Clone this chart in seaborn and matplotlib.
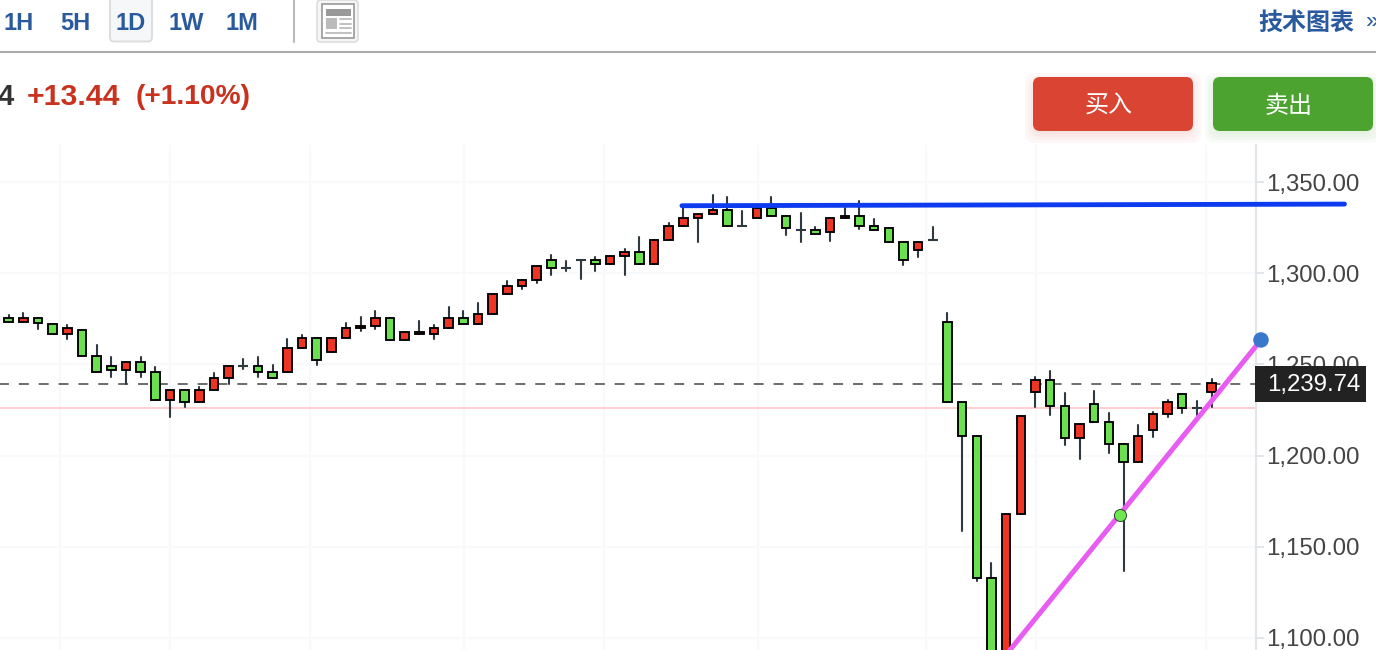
import matplotlib

matplotlib.use("Agg")
import matplotlib.pyplot as plt
import pandas as pd
import seaborn as sns
from matplotlib.patches import FancyBboxPatch, Rectangle
from matplotlib.ticker import StrMethodFormatter

opens = [1275.3, 1273.4, 1275.3, 1272.1, 1266.9, 1268.9, 1254.6, 1249.1, 1246.9, 1251.3,
         1245.8, 1230.5, 1236.0, 1229.4, 1236.2, 1242.5, 1249.1, 1249.1, 1245.8, 1245.8,
         1259.0, 1264.5, 1257.0, 1264.7, 1270.0, 1271.0, 1275.4, 1263.4, 1266.7, 1266.7,
         1270.0, 1275.4, 1272.1, 1277.6, 1288.6, 1293.0, 1296.3, 1307.2, 1302.8, 1307.2,
         1307.2, 1305.0, 1309.4, 1311.6, 1305.0, 1318.2, 1325.9, 1330.3, 1332.5, 1334.7,
         1325.9, 1330.3, 1335.7, 1331.4, 1323.7, 1323.7, 1322.6, 1330.3, 1331.4, 1325.9,
         1324.8, 1317.1, 1312.7, 1318.2, 1273.3, 1229.4, 1210.7, 1132.9, 1085.0, 1168.0,
         1234.9, 1241.4, 1227.2, 1209.6, 1228.3, 1218.4, 1206.4, 1196.5, 1214.0, 1222.8,
         1233.8, 1226.1, 1234.9]
highs = [1277.1, 1278.0, 1275.3, 1272.1, 1271.6, 1268.9, 1260.6, 1254.0, 1251.3, 1254.0,
         1248.6, 1236.0, 1236.0, 1237.6, 1245.3, 1249.1, 1253.0, 1254.0, 1249.7, 1263.9,
         1266.1, 1264.5, 1264.5, 1272.7, 1276.0, 1279.3, 1275.4, 1267.8, 1273.8, 1271.6,
         1281.4, 1279.3, 1283.6, 1288.6, 1295.7, 1296.3, 1303.9, 1310.0, 1306.7, 1307.2,
         1308.9, 1309.4, 1313.3, 1319.8, 1318.2, 1327.5, 1336.5, 1332.5, 1342.9, 1341.8,
         1334.1, 1335.7, 1341.8, 1331.4, 1333.0, 1325.3, 1330.3, 1335.7, 1339.6, 1329.7,
         1324.8, 1317.1, 1317.1, 1325.3, 1278.2, 1229.4, 1210.7, 1140.9, 1168.0, 1221.7,
         1243.1, 1246.4, 1234.3, 1217.3, 1235.4, 1223.3, 1206.4, 1216.8, 1223.9, 1230.5,
         1233.8, 1229.9, 1242.0]
lows = [1273.4, 1273.4, 1269.6, 1266.9, 1264.1, 1254.8, 1246.0, 1243.1, 1239.3, 1243.1,
        1230.7, 1221.2, 1226.6, 1229.4, 1236.2, 1239.3, 1247.5, 1243.1, 1242.5, 1245.8,
        1259.0, 1249.7, 1257.0, 1264.7, 1268.3, 1269.4, 1263.4, 1263.4, 1266.7, 1263.9,
        1270.0, 1272.1, 1272.1, 1277.6, 1288.6, 1291.3, 1294.6, 1299.0, 1301.2, 1296.8,
        1301.2, 1305.0, 1299.0, 1305.0, 1305.0, 1318.2, 1325.9, 1316.9, 1332.5, 1325.9,
        1325.9, 1330.3, 1331.4, 1320.9, 1316.9, 1321.5, 1317.6, 1330.3, 1324.2, 1323.7,
        1317.1, 1304.5, 1308.9, 1318.2, 1229.4, 1158.8, 1131.4, 1085.0, 1085.0, 1168.0,
        1226.6, 1222.3, 1205.8, 1198.1, 1218.4, 1201.4, 1136.9, 1196.5, 1210.2, 1221.3,
        1223.3, 1222.3, 1226.6]
closes = [1273.4, 1275.3, 1272.5, 1266.9, 1270.0, 1254.8, 1246.0, 1246.9, 1251.3, 1245.8,
          1230.7, 1236.0, 1229.4, 1236.0, 1242.5, 1249.1, 1249.1, 1245.8, 1242.5, 1259.0,
          1264.5, 1252.4, 1264.5, 1269.9, 1271.0, 1275.4, 1263.4, 1267.8, 1267.8, 1270.0,
          1275.4, 1272.1, 1277.6, 1288.6, 1293.0, 1296.3, 1303.9, 1302.8, 1302.8, 1307.2,
          1305.0, 1309.4, 1311.6, 1305.0, 1318.2, 1325.9, 1330.3, 1332.5, 1334.7, 1325.9,
          1325.9, 1335.7, 1331.4, 1324.8, 1323.7, 1321.5, 1330.3, 1331.4, 1325.9, 1323.7,
          1317.1, 1307.2, 1317.1, 1318.2, 1229.4, 1210.7, 1132.9, 1085.0, 1168.0, 1221.7,
          1241.4, 1227.2, 1209.6, 1217.3, 1218.4, 1206.4, 1196.5, 1210.7, 1222.8, 1229.4,
          1226.1, 1226.1, 1239.7]

y_ticks = [1100, 1150, 1200, 1250, 1300, 1350]
x_grid = [3.5, 11.0, 20.55, 31.04, 40.59, 51.08, 62.54, 70.04, 81.62]
dash_level = 1239.3
pink_level = 1226.1
blue_x = [45.9, 91.06]
blue_y = [1337.0, 1337.9]
pink_x = [68.26, 85.37]
pink_y = [1093.4, 1263.4]
green_dot = (75.76, 1167.4)
blue_dot = (85.37, 1263.4)
last_label = "1,239.74"

periods = ["1H", "5H", "1D", "1W", "1M"]
period_x = [18.5, 75, 131, 186.5, 242]

RED = "#ee3524"
GREEN = "#6be04f"
WICK = "#2f3a40"

sns.set_theme(style="white")
plt.rcParams["font.family"] = ["Liberation Sans", "Noto Sans CJK SC", "DejaVu Sans"]

df = pd.DataFrame({"i": range(len(opens)), "o": opens, "h": highs, "l": lows, "c": closes})
df["bottom"] = df[["o", "c"]].min(axis=1)
df["height"] = (df["o"] - df["c"]).abs()

fig = plt.figure(figsize=(13.76, 6.5), dpi=100, facecolor="white")
ax = fig.add_axes([0, 0, 1256 / 1376, 505 / 650])
ax.patch.set_alpha(0)

# wicks, one short line per candle
wicks = pd.concat([df[["i", "h"]].rename(columns={"h": "p"}), df[["i", "l"]].rename(columns={"l": "p"})])
sns.lineplot(data=wicks, x="i", y="p", units="i", estimator=None, color=WICK, linewidth=1.5, zorder=2, ax=ax)

for col, part in [(RED, df[df.c > df.o]), (GREEN, df[df.c < df.o])]:
    sns.barplot(data=part, x="i", y="height", bottom=part["bottom"].values, native_scale=True, color=col,
                saturation=1, width=0.58, edgecolor="black", linewidth=1.35, errorbar=None, zorder=3, ax=ax)

doji = df[df.height == 0]
sns.scatterplot(data=doji, x="i", y="c", marker="_", s=55, color=WICK, linewidth=1.5, zorder=3, ax=ax)

sns.lineplot(x=[-1, 86], y=[pink_level, pink_level], color="#ffc0c4", linewidth=1.1, zorder=1.5, ax=ax)
sns.lineplot(x=[-1, 86], y=[dash_level, dash_level], color="#444444", linewidth=1.1, dashes=(6.5, 6.5), zorder=1.6, ax=ax)
sns.lineplot(x=blue_x, y=blue_y, color="#0d3cf0", linewidth=3.5, clip_on=False, zorder=5, ax=ax)
sns.lineplot(x=pink_x, y=pink_y, color="#e85cf2", linewidth=3.6, clip_on=False, zorder=5, ax=ax)
sns.scatterplot(x=[green_dot[0]], y=[green_dot[1]], s=75, color="#6fe84f", edgecolor="#2c4a2c", linewidth=0.7, zorder=6, ax=ax)
sns.scatterplot(x=[blue_dot[0]], y=[blue_dot[1]], s=125, color="#3a78cc", edgecolor="none", clip_on=False, zorder=6, ax=ax)

ax.set_xlim(-8.6 / 14.67, 1247.4 / 14.67)
ax.set_ylim(1093.4, 1370.3)
ax.set_xlabel("")
ax.set_ylabel("")
ax.set_xticks(x_grid)
ax.set_xticklabels([])
ax.set_yticks(y_ticks)
ax.yaxis.set_major_formatter(StrMethodFormatter("{x:,.2f}"))
ax.yaxis.tick_right()
ax.tick_params(axis="x", length=0)
ax.tick_params(axis="y", length=5.5, width=1.4, color="#e2e5ea", labelsize=17.3, labelcolor="#444444", pad=2, right=True)
ax.grid(True, color="#f8f9fa", linewidth=1.5)
ax.set_axisbelow(True)
for name in ["top", "left", "bottom"]:
    ax.spines[name].set_visible(False)
ax.spines["right"].set_color("#e2e5ea")
ax.spines["right"].set_linewidth(1.5)

# page furniture on top, in pixel coordinates
top = fig.add_axes([0, 0, 1, 1], zorder=10)
top.set_xlim(0, 1376)
top.set_ylim(650, 0)
top.axis("off")
top.patch.set_alpha(0)

top.add_patch(FancyBboxPatch((110, -4), 42, 45.5, boxstyle="round,pad=0,rounding_size=4", fc="#f6f7f8", ec="#dddddd", lw=1.4))
for label, x in zip(periods, period_x):
    top.text(x, 23, label, ha="center", va="center", fontsize=17, fontweight="bold", color="#2a5a9e")
top.plot([294, 294], [0, 42], color="#bbbbbb", lw=1.5)
top.plot([0, 1376], [52, 52], color="#aaaaaa", lw=1.5)

# layout icon
top.add_patch(FancyBboxPatch((317, 0), 41, 42, boxstyle="round,pad=0,rounding_size=4", fc="#f6f6f6", ec="#dddddd", lw=1.2))
top.add_patch(Rectangle((322, 4), 32, 34, fc="white", ec="#999999", lw=1.2))
top.add_patch(Rectangle((326, 9), 25, 7, fc="#999999", ec="none"))
top.add_patch(Rectangle((326, 18), 11, 11, fc="#bbbbbb", ec="none"))
for y in [19, 23.5, 28, 33]:
    x0 = 326 if y == 33 else 340
    top.plot([x0, 351], [y, y], color="#bbbbbb", lw=1.3)

top.text(1354, 23, "技术图表", ha="right", va="center", fontsize=17.3, fontweight="bold", color="#2a5a9e")
top.text(1366, 22, "»", ha="left", va="center", fontsize=17, color="#2a5a9e", clip_on=True)

top.text(-2, 97, "4", ha="left", va="center", fontsize=21, fontweight="bold", color="#333333")
top.text(27, 97, "+13.44", ha="left", va="center", fontsize=21.8, fontweight="bold", color="#c8321e")
top.text(136, 97, "(+1.10%)", ha="left", va="center", fontsize=20.3, fontweight="bold", color="#c8321e")

for x0, col, shadow, label in [(1033, "#d94532", "#d94532", "买入"), (1213, "#4ca330", "#4ca330", "卖出")]:
    for pad in [14, 11, 8, 5, 2]:
        top.add_patch(FancyBboxPatch((x0 - pad + 6, 83 - pad + 4), 148 + 2 * pad, 42 + 2 * pad,
                                     boxstyle="round,pad=0,rounding_size=10", fc=shadow, ec="none", alpha=0.035))
    top.add_patch(FancyBboxPatch((x0, 77), 160, 54, boxstyle="round,pad=0,rounding_size=7", fc=col, ec="none"))
    top.text(x0 + 76, 107, label, ha="center", va="center", fontsize=17.3, color="white")

top.add_patch(Rectangle((1255, 366), 111, 36, fc="#222222", ec="none"))
top.text(1267, 385, last_label, ha="left", va="center", fontsize=17.3, color="white")

fig.savefig("out.png", dpi=100)
